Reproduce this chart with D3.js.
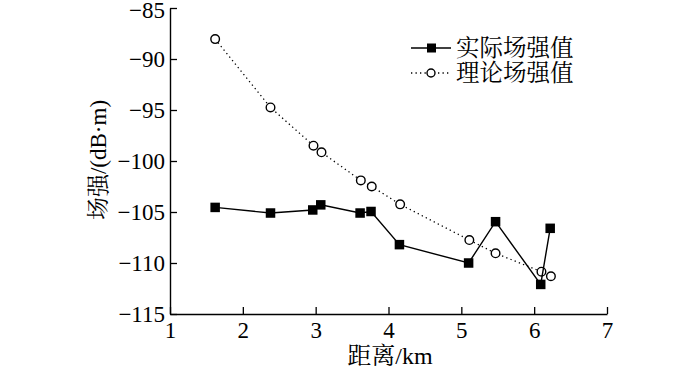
<!DOCTYPE html>
<html>
<head>
<meta charset="utf-8">
<script src="https://cdn.jsdelivr.net/npm/d3@7"></script>
<style>
  body { margin: 0; background: #fff; }
</style>
</head>
<body>
<svg id="chart" width="700" height="370"></svg>
<script>
// distance in km
const distance = [1.62, 2.38, 2.96, 3.07, 3.61, 3.76, 4.15, 5.10, 5.47, 6.09, 6.22];
const measured = [-104.55, -105.1, -104.8, -104.3, -105.1, -104.95, -108.2, -110.0, -105.95, -112.1, -106.6];
const theoryX = [1.62, 2.38, 2.97, 3.08, 3.62, 3.77, 4.16, 5.11, 5.47, 6.10, 6.23];
const theory = [-88.05, -94.75, -98.5, -99.15, -101.9, -102.5, -104.25, -107.75, -109.05, -110.85, -111.3];
const xTicks = [1, 2, 3, 4, 5, 6, 7];
const yTicks = [-115, -110, -105, -100, -95, -90, -85];
const seriesNames = ["实际场强值", "理论场强值"];

const FONT = '"Liberation Serif", "Noto Serif CJK SC", "Noto Sans CJK SC"';

const svg = d3.select("#chart");
const margin = {left: 170, right: 93, top: 8, bottom: 56};
const width = 700 - margin.left - margin.right;
const height = 370 - margin.top - margin.bottom;

const x = d3.scaleLinear().domain([1, 7]).range([margin.left, margin.left + width]);
const y = d3.scaleLinear().domain([-115, -85]).range([margin.top + height, margin.top]);

const minus = s => String(s).replace("-", "\u2212");

// axes, ticks pointing inward
const xAxis = svg.append("g")
    .attr("transform", `translate(0,${margin.top + height})`)
    .call(d3.axisBottom(x).tickValues(xTicks).tickSizeInner(-7).tickSizeOuter(0).tickPadding(8).tickFormat(d => d));
const yAxis = svg.append("g")
    .attr("transform", `translate(${margin.left},0)`)
    .call(d3.axisLeft(y).tickValues(yTicks).tickSizeInner(-7).tickSizeOuter(0).tickPadding(5).tickFormat(minus));

[xAxis, yAxis].forEach(a => {
    a.select(".domain").attr("stroke", "#000").attr("stroke-width", 1.4);
    a.selectAll(".tick line").attr("stroke", "#000").attr("stroke-width", 1.3);
    a.selectAll(".tick text")
        .style("font-family", FONT)
        .style("font-size", "23px")
        .attr("fill", "#000");
});
yAxis.selectAll(".tick text").attr("dy", "0.34em");
// top label sits against the edge in the reference too
yAxis.selectAll(".tick text").filter(d => d === -85).attr("dy", "0.4em");

// theoretical: dotted line + open circles
const theoryPts = theoryX.map((d, i) => ({x: d, y: theory[i]}));
svg.append("path")
    .datum(theoryPts)
    .attr("fill", "none")
    .attr("stroke", "#000")
    .attr("stroke-width", 1.3)
    .attr("stroke-dasharray", "1.3,3.2")
    .attr("d", d3.line().x(d => x(d.x)).y(d => y(d.y)));
svg.selectAll("circle.theory")
    .data(theoryPts)
    .enter()
    .append("circle")
    .attr("class", "theory")
    .attr("cx", d => x(d.x))
    .attr("cy", d => y(d.y))
    .attr("r", 4.3)
    .attr("fill", "#fff")
    .attr("stroke", "#000")
    .attr("stroke-width", 1.4);

// measured: solid line + filled squares
const measPts = distance.map((d, i) => ({x: d, y: measured[i]}));
svg.append("path")
    .datum(measPts)
    .attr("fill", "none")
    .attr("stroke", "#000")
    .attr("stroke-width", 1.4)
    .attr("d", d3.line().x(d => x(d.x)).y(d => y(d.y)));
const sq = 9.5;
svg.selectAll("rect.meas")
    .data(measPts)
    .enter()
    .append("rect")
    .attr("class", "meas")
    .attr("x", d => x(d.x) - sq / 2)
    .attr("y", d => y(d.y) - sq / 2)
    .attr("width", sq)
    .attr("height", sq)
    .attr("fill", "#000");

// legend
const legend = svg.append("g").attr("transform", "translate(411,48)");
legend.append("line").attr("x1", 0).attr("x2", 40).attr("y1", 0).attr("y2", 0)
    .attr("stroke", "#000").attr("stroke-width", 1.4);
legend.append("rect").attr("x", 16).attr("y", -4.5).attr("width", 9).attr("height", 9).attr("fill", "#000");
legend.append("line").attr("x1", 0).attr("x2", 40).attr("y1", 25).attr("y2", 25)
    .attr("stroke", "#000").attr("stroke-width", 1.3).attr("stroke-dasharray", "1.3,3.2");
legend.append("circle").attr("cx", 20).attr("cy", 25).attr("r", 4).attr("fill", "#fff")
    .attr("stroke", "#000").attr("stroke-width", 1.4);
legend.selectAll("text.leg")
    .data(seriesNames)
    .enter()
    .append("text")
    .attr("class", "leg")
    .attr("x", 45)
    .attr("y", (d, i) => i * 25)
    .attr("dy", "0.36em")
    .style("font-family", FONT)
    .style("font-size", "23.5px")
    .text(d => d);

// axis titles
svg.append("text")
    .attr("x", 390)
    .attr("y", 364)
    .attr("text-anchor", "middle")
    .style("font-family", FONT)
    .style("font-size", "24px")
    .text("距离/km");
svg.append("text")
    .attr("transform", "translate(106,160) rotate(-90)")
    .attr("text-anchor", "middle")
    .style("font-family", FONT)
    .style("font-size", "23px")
    .text("场强/(dB·m)");
</script>
</body>
</html>
